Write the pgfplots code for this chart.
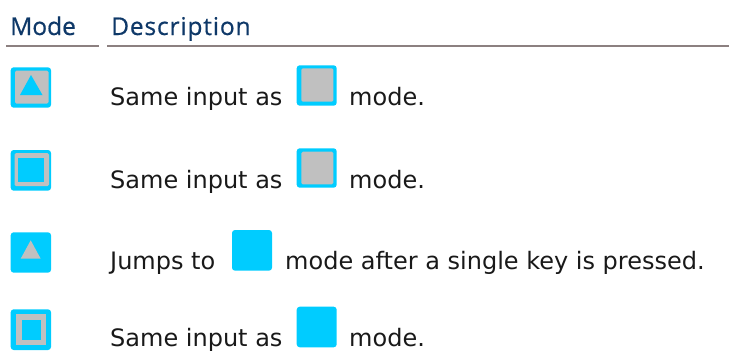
\documentclass[border=0pt]{standalone}
\usepackage{pgfplots}
\pgfplotsset{compat=1.18}
\usepackage{fontspec}
\setmainfont{DejaVu Sans}
\newfontfamily\headfont[RawFeature={embolden=0.6}]{Open Sans}
\newfontfamily\headfontb[RawFeature={embolden=0.6},LetterSpace=3.5]{Open Sans}
\definecolor{cy}{RGB}{0,204,255}
\definecolor{gy}{RGB}{192,192,192}
\definecolor{hd}{RGB}{14,56,104}
\definecolor{rl}{RGB}{140,128,128}
\tikzset{bt/.style={anchor=base west,inner sep=0pt,text=black!90,font=\fontsize{24}{25}\selectfont},
hdt/.style={anchor=base west,inner sep=0pt,font=\headfont\fontsize{24.5}{25}\selectfont\color{hd}},
hdb/.style={anchor=base west,inner sep=0pt,font=\headfontb\fontsize{24.5}{25}\selectfont\color{hd}}}
\pgfplotsset{cyan box/.style={fill=cy,draw=none,rounded corners=3pt},
gray box/.style={fill=gy,draw=none,rounded corners=1.5pt},
sharp cy/.style={fill=cy,draw=none},sharp gy/.style={fill=gy,draw=none}}
\begin{document}
\begin{tikzpicture}
\begin{axis}[width=729pt,height=351pt,scale only axis,xmin=0,xmax=729,ymin=0,ymax=351,y dir=reverse,axis lines=none,clip=false]
% rules
\addplot[rl,line width=1.5pt] coordinates {(6,46) (99,46)};
\addplot[rl,line width=1.5pt] coordinates {(107,46) (729,46)};
% row 1
\addplot[cyan box] coordinates {(10.7,67.3) (51,67.3) (51,107.7) (10.7,107.7)} -- cycle;
\addplot[gray box] coordinates {(15,70.5) (48.5,70.5) (48.5,103.5) (15,103.5)} -- cycle;
\addplot[sharp cy] coordinates {(31,75) (42.5,95) (20,95)} -- cycle;
% row 2
\addplot[cyan box] coordinates {(10.7,150) (51,150) (51,190.7) (10.7,190.7)} -- cycle;
\addplot[gray box] coordinates {(14.5,153) (49,153) (49,186) (14.5,186)} -- cycle;
\addplot[sharp cy] coordinates {(18.3,157.7) (44.3,157.7) (44.3,182.3) (18.3,182.3)} -- cycle;
% row 3
\addplot[cyan box] coordinates {(10.7,232.3) (51,232.3) (51,272.7) (10.7,272.7)} -- cycle;
\addplot[sharp gy] coordinates {(30.7,240.3) (40.7,258.7) (20.7,258.7)} -- cycle;
% row 4
\addplot[cyan box] coordinates {(10.7,309.3) (51,309.3) (51,350) (10.7,350)} -- cycle;
\addplot[sharp gy] coordinates {(16,314.3) (45.7,314.3) (45.7,345.3) (16,345.3)} -- cycle;
\addplot[sharp cy] coordinates {(22.3,320.3) (40.7,320.3) (40.7,339.7) (22.3,339.7)} -- cycle;
% inline icons
\addplot[cyan box] coordinates {(296.7,65.3) (336.7,65.3) (336.7,105.7) (296.7,105.7)} -- cycle;
\addplot[gray box] coordinates {(301.3,68.3) (333.3,68.3) (333.3,101.7) (301.3,101.7)} -- cycle;
\addplot[cyan box] coordinates {(296.7,148.3) (336.7,148.3) (336.7,187.7) (296.7,187.7)} -- cycle;
\addplot[gray box] coordinates {(301.3,151.7) (333.3,151.7) (333.3,184.3) (301.3,184.3)} -- cycle;
\addplot[cyan box] coordinates {(232,230) (272,230) (272,270.7) (232,270.7)} -- cycle;
\addplot[cyan box] coordinates {(296.7,306.7) (336.7,306.7) (336.7,347.3) (296.7,347.3)} -- cycle;
\node[hdt] at (axis cs:10,35) {Mode};
\node[hdb] at (axis cs:111,35) {Description};
\node[bt] at (axis cs:110,105) {Same input as};
\node[bt] at (axis cs:349,105) {mode.};
\node[bt] at (axis cs:110,188) {Same input as};
\node[bt] at (axis cs:349,188) {mode.};
\node[bt] at (axis cs:110,269) {Jumps to};
\node[bt] at (axis cs:285,269) {mode after a single key is pressed.};
\node[bt] at (axis cs:110,346) {Same input as};
\node[bt] at (axis cs:349,346) {mode.};
\end{axis}
\pgfresetboundingbox
\path (0,0) rectangle (729pt,351pt);
\end{tikzpicture}
\end{document}
